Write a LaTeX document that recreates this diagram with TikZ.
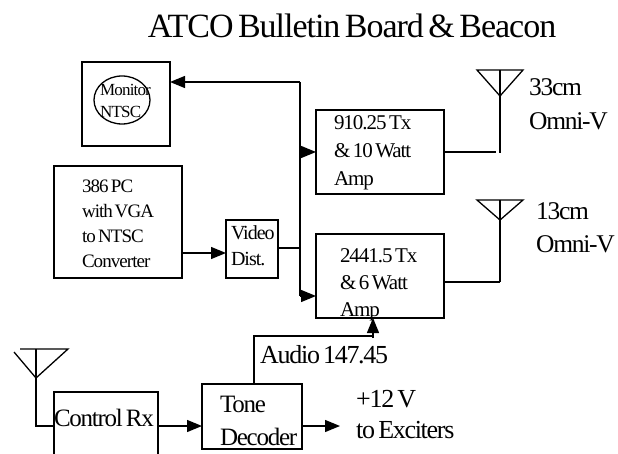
\documentclass[tikz,border=0pt]{standalone}
\usepackage{fontspec}
\setmainfont{Liberation Serif}[LetterSpace=-5,WordSpace=0.6]
\newfontfamily\titlefont{Liberation Serif}[LetterSpace=-3,WordSpace=0.6]
\usetikzlibrary{arrows.meta}
\tikzset{
  blockbox/.style args={#1/#2/#3/#4}{draw=black, line width=1.3pt, anchor=north west, outer sep=0pt,
    inner xsep=#2pt, inner ysep=0pt, text width=#1pt-2*#2pt, text height=#3pt, text depth=#4pt, align=flush left},
  freelabel/.style={anchor=base west, inner sep=0pt, text width=#1pt, align=flush left},
  wire/.style={black, line width=1.3pt},
  sig/.style={wire, -{Triangle[length=15pt,width=12pt]}},
}
\begin{document}
\begin{tikzpicture}[x=1pt,y=-1pt]
\useasboundingbox (0,0) rectangle (618,454);
\node[inner sep=0pt, font=\titlefont\fontsize{34}{36}\selectfont] (title) at (352,26) {ATCO Bulletin Board \& Beacon};
% boxes
\node[blockbox={88/0/40/44}] (monitorbox) at (82,62) {};
\node[blockbox={128/28/27/85}, font=\fontsize{19}{25}\selectfont] (pcbox) at (54,166) {386~PC\\with~VGA\\to~NTSC\\Converter};
\node[blockbox={52/5/20/38}, font=\fontsize{20}{26}\selectfont] (videobox) at (226,220) {Video\\Dist.};
\node[blockbox={128/18/20/64}, font=\fontsize{21}{28}\selectfont] (txonebox) at (316,110) {910.25~Tx\\\&~10~Watt\\Amp};
\node[blockbox={128/24/28/56}, font=\fontsize{21}{27}\selectfont] (txtwobox) at (316,234) {2441.5~Tx\\\&~6~Watt\\Amp};
\node[blockbox={104/0/34/32}, font=\fontsize{25}{26}\selectfont] (rxbox) at (54,392) {Control~Rx};
\node[blockbox={100/18/28/37}, font=\fontsize{25}{33}\selectfont] (tonebox) at (202,384) {Tone\\Decoder};
% monitor tube
\draw[wire] (122,100) ellipse [x radius=28, y radius=24];
\node[freelabel=60, font=\fontsize{17}{22}\selectfont] (monitortext) at (100,96) {Monitor\\NTSC};
% free labels
\node[freelabel=85, font=\fontsize{25.5}{34}\selectfont] (oneband) at (529,96) {33cm\\\mbox{Omni-V}};
\node[freelabel=80, font=\fontsize{25.5}{33}\selectfont] (twoband) at (536,220) {13cm\\\mbox{Omni-V}};
\node[freelabel=140, font=\fontsize{26}{26}\selectfont] (audiotext) at (260,363) {Audio 147.45};
\node[freelabel=110, font=\fontsize{26}{31}\selectfont] (exciters) at (356,407) {+12 V\\to~Exciters};
% bus
\coordinate (bustop) at (300,82);
\coordinate (busone) at (300,152);
\coordinate (busvideo) at (300,248);
\coordinate (busbot) at (300,296);
\draw[wire] (bustop) -- (busbot);
\draw[sig] (bustop) -- (monitorbox.east |- bustop);
\draw[sig] (busone) -- (txonebox.west |- busone);
\draw[sig] (busbot) -- (txtwobox.west |- busbot);
\draw[wire] (videobox.east |- busvideo) -- (busvideo);
\coordinate (pcout) at (182,253);
\draw[sig] (pcout) -- (videobox.west |- pcout);
% antennas
\coordinate (oneapex) at (500,96);
\coordinate (onefoot) at (500,153);
\draw[wire] (477,70) -- (523,70) -- (oneapex) -- cycle;
\draw[wire] (500,70) -- (onefoot);
\coordinate (oneend) at (496,152);
\draw[wire] (txonebox.east |- oneend) -- (oneend);
\coordinate (twoapex) at (500,220);
\coordinate (twofoot) at (500,282);
\draw[wire] (477,200) -- (523,200) -- (twoapex) -- cycle;
\draw[wire] (500,200) -- (twofoot);
\draw[wire] (txtwobox.east |- twofoot) -- (twofoot);
\coordinate (rxapex) at (36,378);
\coordinate (rxfoot) at (36,426);
\draw[wire] (14,352) -- (rxapex) -- (68,349) -- (20,349);
\draw[wire] (36,349) -- (rxfoot) -- (rxbox.west |- rxfoot);
% lower signals
\draw[sig] (rxbox.east |- rxfoot) -- (tonebox.west |- rxfoot);
\coordinate (toneout) at (340,426);
\draw[sig] (tonebox.east |- toneout) -- (toneout);
\coordinate (audiostart) at (254,384);
\coordinate (audiocorner) at (254,336);
\coordinate (audioend) at (373,336);
\draw[wire] (audiostart) -- (audiocorner) -- (audioend);
\draw[sig] (373,338) -- (txtwobox.south -| audioend);
\end{tikzpicture}
\end{document}
